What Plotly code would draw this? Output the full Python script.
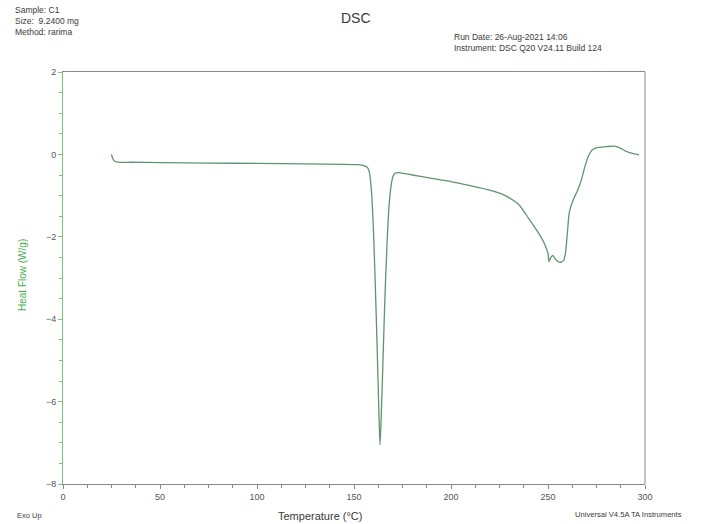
import plotly.graph_objects as go

# Data
temperature_c = [25.0, 25.5, 26.5, 28, 35, 50, 75, 100, 125, 145, 152, 155, 157, 158, 159, 160,
                 161, 162, 162.8, 163.4, 164, 165, 166, 167, 168, 169, 170, 171, 173, 180, 190,
                 200, 210, 220, 228, 235, 240, 245, 248, 250, 250.5, 251.5, 252.5, 254, 256, 258,
                 259, 260, 261, 263, 265, 267, 269, 271, 273, 276, 280, 284, 287, 290, 294, 297]
heat_flow_wg = [0.0, -0.08, -0.16, -0.19, -0.19, -0.20, -0.21, -0.22, -0.23, -0.24, -0.25, -0.27,
                -0.32, -0.45, -0.9, -1.8, -3.2, -4.8, -6.2, -7.05, -6.4, -4.9, -3.4, -2.2, -1.3,
                -0.8, -0.55, -0.46, -0.44, -0.5, -0.58, -0.66, -0.76, -0.87, -1.0, -1.22, -1.55,
                -1.9, -2.15, -2.4, -2.6, -2.5, -2.45, -2.55, -2.62, -2.58, -2.4, -1.9, -1.4, -1.1,
                -0.9, -0.65, -0.3, -0.02, 0.12, 0.17, 0.19, 0.2, 0.16, 0.08, 0.02, -0.01]

x_ticks = [0, 50, 100, 150, 200, 250, 300]
y_ticks = [2, 0, -2, -4, -6, -8]

W, H = 708, 524
L, R, T, B = 63, 63, 72, 40
PW, PH = W - L - R, H - T - B

def px(x):
    return (x - L) / PW

def py(y):
    return 1 - (y - T) / PH

FONT = "Liberation Sans, Arial, sans-serif"
TXT = "#3a3a3a"
GREEN = "#4caf50"

fig = go.Figure()
fig.add_trace(go.Scatter(x=temperature_c, y=heat_flow_wg, mode="lines",
                         line=dict(color="#5f9470", width=1.3, shape="spline", smoothing=0.6),
                         hoverinfo="skip", showlegend=False))

fig.update_layout(
    width=W, height=H, margin=dict(l=L, r=R, t=T, b=B),
    paper_bgcolor="white", plot_bgcolor="white",
    font=dict(family=FONT, color=TXT, size=9),
    xaxis=dict(range=[0, 300], tickvals=x_ticks, showgrid=False, zeroline=False,
               showline=True, linecolor="#8a8a8a", linewidth=1, mirror=True,
               ticks="outside", ticklen=4, tickcolor="#8a8a8a",
               minor=dict(dtick=12.5, ticks="outside", ticklen=3, tickcolor="#8a8a8a"),
               tickfont=dict(size=9, color="#555555")),
    yaxis=dict(range=[-8, 2], tickvals=y_ticks, showgrid=False, zeroline=False,
               showline=True, linecolor="#7cc47c", linewidth=1,
               ticks="outside", ticklen=4, tickcolor="#7cc47c",
               minor=dict(dtick=0.5, ticks="outside", ticklen=3, tickcolor="#7cc47c"),
               tickfont=dict(size=9, color="#555555")),
    shapes=[dict(type="line", xref="paper", yref="paper", x0=1, x1=1, y0=0, y1=1,
                 line=dict(color="#8a8a8a", width=1))],
)

ann = [
    ("DSC", 356, 18, 14, "center", TXT),
    ("Sample: C1", 13, 10, 8.5, "left", TXT),
    ("Size:  9.2400 mg", 13, 21, 8.5, "left", TXT),
    ("Method: rarima", 13, 32, 8.5, "left", TXT),
    ("Run Date: 26-Aug-2021 14:06", 452, 37, 8.5, "left", TXT),
    ("Instrument: DSC Q20 V24.11 Build 124", 452, 48, 8.5, "left", TXT),
    ("Exo Up", 15, 515, 7.5, "left", TXT),
    ("Temperature (°C)", 320, 516, 11, "center", TXT),
    ("Universal V4.5A TA Instruments", 573, 514, 7.6, "left", TXT),
]
for text, x, y, size, align, color in ann:
    fig.add_annotation(text=text, xref="paper", yref="paper", x=px(x), y=py(y),
                       xanchor=align, yanchor="middle", showarrow=False,
                       font=dict(size=size, color=color, family=FONT))

fig.add_annotation(text="Heat Flow (W/g)", xref="paper", yref="paper", x=px(22), y=py(275),
                   xanchor="center", yanchor="middle", showarrow=False, textangle=-90,
                   font=dict(size=10, color=GREEN, family=FONT))

fig.write_html("out.html")
